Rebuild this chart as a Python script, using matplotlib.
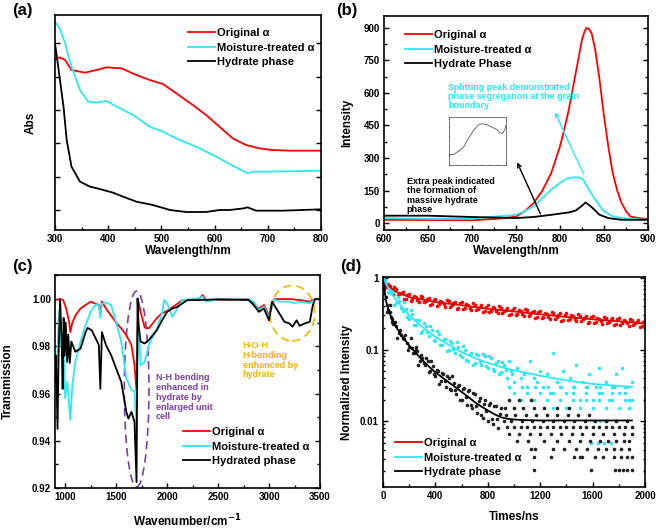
import matplotlib
matplotlib.use("Agg")
import matplotlib.pyplot as plt
from matplotlib.patches import Ellipse
from matplotlib.ticker import (MultipleLocator, FixedLocator, NullFormatter, LogLocator,
                               FixedFormatter, FormatStrFormatter)

plt.rcParams['font.family'] = ['Liberation Sans', 'DejaVu Sans']
plt.rcParams['font.weight'] = 'bold'
plt.rcParams['axes.labelweight'] = 'bold'

RED = '#FF0000'
CYAN = '#2CE8F5'
BLACK = '#000000'

# ---------------- (a) UV-vis absorbance ----------------
a_orig_x = [300, 309, 319, 331, 356, 378, 397, 425, 453, 478, 503, 528, 559, 584, 609, 634, 659, 684, 709, 741, 800]
a_orig_y = [5.52, 5.58, 5.50, 5.20, 5.12, 5.20, 5.28, 5.25, 5.05, 4.90, 4.78, 4.50, 4.15, 3.85, 3.50, 3.15, 2.95, 2.85, 2.80, 2.78, 2.78]
a_moist_x = [300, 309, 319, 331, 347, 362, 378, 397, 416, 447, 478, 503, 528, 572, 603, 634, 662, 672, 697, 800]
a_moist_y = [6.65, 6.45, 6.00, 5.30, 4.60, 4.25, 4.22, 4.27, 4.10, 3.85, 3.50, 3.35, 3.15, 2.85, 2.60, 2.33, 2.10, 2.15, 2.15, 2.18]
a_hyd_x = [300, 306, 316, 322, 331, 347, 366, 384, 409, 428, 453, 484, 516, 547, 584, 609, 628, 655, 662, 670, 678, 728, 800]
a_hyd_y = [6.00, 5.30, 4.10, 3.10, 2.30, 1.85, 1.70, 1.63, 1.52, 1.40, 1.25, 1.15, 1.00, 0.94, 0.94, 1.00, 1.00, 1.05, 1.08, 1.03, 0.98, 0.98, 1.02]
a_yticks = [1, 2, 3, 4, 5, 6]

# ---------------- (b) PL spectra ----------------
b_orig_x = [600, 650, 700, 730, 750, 760, 770, 780, 790, 800, 805, 810, 815, 820, 825, 828, 830, 833, 836, 840,
            845, 850, 855, 860, 865, 870, 875, 880, 890, 900]
b_orig_y = [15, 14, 13, 20, 30, 55, 92, 150, 230, 354, 435, 523, 630, 738, 846, 885, 900, 895, 875, 800,
            660, 492, 350, 230, 150, 92, 55, 30, 23, 18]
b_moist_x = [600, 650, 700, 750, 760, 770, 780, 790, 795, 800, 805, 810, 815, 822, 826, 830, 835, 840, 845, 850, 860, 870, 900]
b_moist_y = [23, 20, 21, 38, 55, 77, 115, 154, 170, 185, 198, 208, 211, 210, 202, 175, 140, 108, 80, 54, 31, 23, 15]
b_hyd_x = [600, 650, 700, 750, 770, 790, 810, 818, 825, 829, 835, 845, 855, 870, 900]
b_hyd_y = [34, 34, 28, 23, 28, 38, 49, 58, 80, 95, 77, 38, 23, 15, 15]
inset_x = [0.00, 0.08, 0.16, 0.25, 0.34, 0.43, 0.51, 0.57, 0.66, 0.75, 0.84, 0.89, 0.94, 0.98, 1.00]
inset_y = [0.21, 0.22, 0.28, 0.36, 0.55, 0.72, 0.83, 0.86, 0.84, 0.79, 0.74, 0.67, 0.66, 0.74, 0.83]

# ---------------- (c) FTIR ----------------
c_orig_x = [900, 950, 980, 1010, 1040, 1050, 1070, 1100, 1150, 1200, 1250, 1300, 1330, 1345, 1360, 1400, 1450, 1500, 1550, 1600, 1650, 1680, 1700, 1710, 1720, 1740, 1780, 1820, 1900, 1950, 2000, 2100, 2150, 2300, 2350, 2380, 2500, 2800, 2900, 2950, 3000, 3050, 3200, 3300, 3400, 3450, 3500]
c_orig_y = [0.9996, 1.0000, 0.9996, 0.9960, 0.9900, 0.9860, 0.9900, 0.9930, 0.9960, 0.9975, 0.9989, 0.9980, 0.9975, 0.9940, 0.9990, 0.9960, 0.9930, 0.9900, 0.9876, 0.9847, 0.9805, 0.9720, 0.9610, 0.9860, 0.9989, 0.9946, 0.9880, 0.9876, 0.9920, 0.9940, 0.9950, 0.9980, 0.9996, 0.9996, 1.0017, 0.9996, 0.9996, 1.0000, 0.9960, 0.9975, 0.9930, 1.0000, 1.0000, 0.9996, 0.9989, 1.0000, 1.0000]
c_moist_x = [900, 920, 940, 960, 980, 1000, 1020, 1050, 1070, 1100, 1150, 1200, 1250, 1300, 1330, 1345, 1360, 1400, 1450, 1500, 1550, 1600, 1650, 1680, 1700, 1710, 1720, 1740, 1780, 1820, 1900, 1950, 1970, 2000, 2050, 2100, 2150, 2300, 2350, 2380, 2500, 2800, 2850, 2900, 2950, 2980, 3000, 3050, 3100, 3200, 3250, 3300, 3400, 3450, 3500]
c_moist_y = [0.9734, 0.9734, 0.9950, 0.9800, 0.9860, 0.9580, 0.9650, 0.9490, 0.9635, 0.9734, 0.9820, 0.9890, 0.9946, 0.9977, 0.9975, 0.9920, 0.9980, 0.9986, 0.9975, 0.9900, 0.9820, 0.9664, 0.9614, 0.9610, 0.9437, 0.9760, 0.9900, 0.9720, 0.9734, 0.9805, 0.9876, 0.9940, 0.9996, 0.9982, 0.9925, 0.9960, 0.9996, 1.0003, 1.0010, 0.9989, 0.9999, 0.9999, 0.9989, 0.9953, 0.9968, 0.9940, 0.9925, 1.0000, 0.9989, 0.9989, 0.9982, 0.9989, 0.9982, 1.0000, 1.0000]
c_hyd_x = [900, 910, 925, 935, 950, 965, 975, 985, 995, 1005, 1020, 1030, 1045, 1060, 1100, 1150, 1200, 1220, 1260, 1300, 1330, 1345, 1360, 1380, 1400, 1450, 1500, 1550, 1600, 1620, 1650, 1680, 1700, 1710, 1720, 1740, 1780, 1820, 1900, 1950, 2000, 2050, 2100, 2150, 2200, 2300, 2500, 2800, 2850, 2900, 2950, 3000, 3030, 3050, 3100, 3150, 3200, 3230, 3270, 3300, 3350, 3400, 3430, 3450, 3500]
c_hyd_y = [0.9650, 0.9760, 0.9450, 0.9760, 1.0000, 0.9830, 0.9620, 0.9920, 0.9760, 0.9900, 0.9734, 0.9850, 0.9730, 0.9820, 0.9777, 0.9790, 0.9860, 0.9878, 0.9868, 0.9833, 0.9805, 0.9620, 0.9860, 0.9833, 0.9805, 0.9763, 0.9706, 0.9650, 0.9522, 0.9494, 0.9522, 0.9480, 0.9225, 1.0003, 0.9890, 0.9820, 0.9812, 0.9826, 0.9869, 0.9910, 0.9946, 0.9960, 0.9967, 0.9982, 0.9996, 0.9996, 0.9999, 0.9996, 0.9975, 0.9946, 0.9960, 0.9910, 0.9989, 0.9975, 0.9940, 0.9904, 0.9897, 0.9883, 0.9910, 0.9887, 0.9897, 0.9904, 0.9975, 1.0000, 1.0000]

# ---------------- (d) TRPL ----------------
d_orig_t = list(range(0, 2001, 25)) + list(range(12, 2000, 25))
d_orig_v = [0.92, 0.75, 0.77, 0.605, 0.69, 0.59, 0.64, 0.51, 0.605, 0.50, 0.54, 0.454, 0.54, 0.475, 0.528, 0.428,
            0.515, 0.427, 0.466, 0.392, 0.47, 0.417, 0.468, 0.382, 0.465, 0.384, 0.419, 0.353, 0.421, 0.373,
            0.418, 0.341, 0.414, 0.344, 0.376, 0.319, 0.383, 0.34, 0.382, 0.312, 0.381, 0.316, 0.346, 0.293,
            0.351, 0.311, 0.35, 0.286, 0.347, 0.289, 0.315, 0.267, 0.321, 0.285, 0.32, 0.262, 0.319, 0.265,
            0.291, 0.247, 0.297, 0.264, 0.296, 0.242, 0.296, 0.246, 0.27, 0.23, 0.276, 0.246, 0.277, 0.228,
            0.278, 0.231, 0.254, 0.215, 0.259, 0.231, 0.259, 0.211, 0.258,
            0.756, 0.824, 0.682, 0.739, 0.575, 0.613, 0.502, 0.583, 0.482, 0.562, 0.494, 0.566, 0.455, 0.50,
            0.418, 0.493, 0.411, 0.483, 0.426, 0.491, 0.397, 0.44, 0.371, 0.442, 0.371, 0.434, 0.384, 0.44,
            0.356, 0.393, 0.332, 0.394, 0.331, 0.389, 0.346, 0.399, 0.325, 0.359, 0.304, 0.361, 0.304, 0.357,
            0.318, 0.366, 0.297, 0.33, 0.278, 0.331, 0.277, 0.326, 0.289, 0.334, 0.271, 0.301, 0.254, 0.303,
            0.255, 0.301, 0.267, 0.309, 0.251, 0.278, 0.235, 0.281, 0.237, 0.279, 0.249, 0.288, 0.235, 0.261,
            0.221, 0.264, 0.222, 0.262, 0.233, 0.27, 0.22, 0.243, 0.205, 0.245]
d_orig_fit_t = [0, 100, 200, 400, 600, 800, 1000, 1200, 1400, 1600, 1800, 2000]
d_orig_fit_v = [0.88, 0.64, 0.54, 0.46, 0.415, 0.37, 0.34, 0.31, 0.285, 0.264, 0.248, 0.23]

d_moist_t = list(range(0, 901, 25)) + [
    925, 950, 975, 1000, 1025, 1050, 1075, 1100, 1125, 1150, 1175, 1200, 1225, 1250, 1275, 1300, 1325, 1350,
    1375, 1400, 1425, 1450, 1475, 1500, 1525, 1550, 1575, 1600, 1625, 1650, 1675, 1700, 1725, 1750, 1775,
    1800, 1825, 1850, 1875, 1900,
    1000, 1100, 1200, 1300, 1450, 1550, 1650, 1750, 1850,
    1050, 1150, 1250, 1350, 1450, 1550, 1650, 1750, 1850, 1900,
    1300, 1400, 1500, 1600, 1700, 1800, 1880,
    1610, 1660, 1700, 1590, 1640, 1690, 1740,
    960, 1060, 1160, 1260, 1360, 1460, 1560, 1660, 1760, 1860] + list(range(12, 1000, 25))
d_moist_v = [1.0, 0.86, 0.62, 0.63, 0.44, 0.47, 0.34, 0.37, 0.27, 0.31, 0.22, 0.26, 0.18, 0.215, 0.155, 0.19,
             0.13, 0.165, 0.115, 0.14, 0.10, 0.125, 0.09, 0.11, 0.078, 0.10, 0.07, 0.09, 0.065, 0.085, 0.06,
             0.08, 0.055, 0.075, 0.05, 0.07, 0.048,
             0.06, 0.04, 0.05, 0.035, 0.055, 0.04, 0.045, 0.03, 0.07, 0.04, 0.035, 0.05, 0.03, 0.045, 0.025,
             0.09, 0.035, 0.03, 0.05, 0.025, 0.04, 0.03, 0.06, 0.02, 0.035, 0.03, 0.045, 0.02, 0.03, 0.055,
             0.025, 0.035, 0.02, 0.03, 0.045, 0.025, 0.055, 0.03, 0.02, 0.035,
             0.025, 0.025, 0.025, 0.025, 0.025, 0.025, 0.025, 0.025, 0.025,
             0.02, 0.02, 0.02, 0.02, 0.02, 0.02, 0.02, 0.02, 0.02, 0.02,
             0.015, 0.015, 0.015, 0.015, 0.015, 0.015, 0.015,
             0.01, 0.01, 0.01, 0.005, 0.005, 0.005, 0.005,
             0.03, 0.03, 0.03, 0.03, 0.03, 0.03, 0.03, 0.03, 0.03, 0.03,
             0.93, 0.633, 0.67, 0.413, 0.543, 0.385, 0.461, 0.282, 0.359, 0.223, 0.257, 0.168, 0.234, 0.173,
             0.215, 0.137, 0.181, 0.116, 0.138, 0.094, 0.133, 0.102, 0.129, 0.084, 0.112, 0.072, 0.087, 0.06,
             0.087, 0.067, 0.087, 0.058, 0.08, 0.053, 0.065, 0.045, 0.066, 0.052, 0.068, 0.046]
d_moist_fit_t = [0, 50, 100, 200, 300, 400, 500, 600, 700, 800, 900, 1000, 1200, 1400, 1600, 1800, 1900]
d_moist_fit_v = [1.0, 0.67, 0.49, 0.30, 0.206, 0.15, 0.117, 0.092, 0.076, 0.065, 0.057, 0.051, 0.043, 0.037, 0.033, 0.031, 0.030]

d_hyd_t = [0, 10, 20, 30, 40, 50, 60, 70, 80, 100, 120, 140, 160, 180, 200, 220, 240, 255, 260, 280, 300, 320,
           340, 360, 380, 400, 420, 440, 460, 480, 500, 520, 540, 560, 580, 600, 620, 640, 660, 680, 700, 720,
           740, 760, 780, 800, 820, 840, 860, 880, 900,
           950, 1000, 1050, 1100, 1150, 1200, 1250, 1300, 1350, 1400, 1450, 1500, 1550, 1600, 1650, 1700, 1750, 1800, 1850, 1900,
           960, 1040, 1120, 1200, 1280, 1360, 1440, 1520, 1600, 1680, 1760, 1840, 1900,
           1020, 1110, 1230, 1330, 1420, 1500, 1580, 1660, 1720, 1780, 1840, 1880,
           1130, 1160, 1300, 1380, 1470, 1560, 1640, 1700, 1760, 1820, 1880,
           1150, 1280, 1460, 1500, 1520, 1620, 1680, 1760, 1820, 1860, 1900,
           1150, 1590, 1770, 1800, 1830, 1860, 1900,
           920, 980, 1060, 1140, 1220, 1300, 1380, 1460, 1540, 1620, 1700, 1780, 1860,
           940, 1010, 1090, 1170, 1250, 1330, 1410, 1490, 1570,
           930, 1000, 1070, 1150, 1230, 1330, 1420,
           960, 1040, 1130] + list(range(10, 900, 20))
d_hyd_v = [0.95, 0.70, 0.55, 0.42, 0.36, 0.33, 0.28, 0.27, 0.23, 0.21, 0.17, 0.16, 0.14, 0.125, 0.11, 0.105,
           0.09, 0.11, 0.095, 0.07, 0.075, 0.06, 0.068, 0.05, 0.058, 0.042, 0.05, 0.036, 0.045, 0.03, 0.04,
           0.027, 0.034, 0.024, 0.032, 0.02, 0.029, 0.017, 0.027, 0.015, 0.024, 0.013, 0.021, 0.011, 0.02,
           0.01, 0.018, 0.009, 0.016, 0.008, 0.015,
           0.0082, 0.0082, 0.0082, 0.0082, 0.0082, 0.0082, 0.0082, 0.0082, 0.0082, 0.0082, 0.0082, 0.0082, 0.0082, 0.0082, 0.0082, 0.0082, 0.0082, 0.0082, 0.0082, 0.0082,
           0.0066, 0.0066, 0.0066, 0.0066, 0.0066, 0.0066, 0.0066, 0.0066, 0.0066, 0.0066, 0.0066, 0.0066, 0.0066,
           0.0052, 0.0052, 0.0052, 0.0052, 0.0052, 0.0052, 0.0052, 0.0052, 0.0052, 0.0052, 0.0052, 0.0052,
           0.0041, 0.0041, 0.0041, 0.0041, 0.0041, 0.0041, 0.0041, 0.0041, 0.0041, 0.0041, 0.0041,
           0.0031, 0.0031, 0.0031, 0.0031, 0.0031, 0.0031, 0.0031, 0.0031, 0.0031, 0.0031, 0.0031,
           0.0021, 0.0021, 0.0021, 0.0021, 0.0021, 0.0021, 0.0021,
           0.010, 0.010, 0.010, 0.010, 0.010, 0.010, 0.010, 0.010, 0.010, 0.010, 0.010, 0.010, 0.010,
           0.012, 0.012, 0.012, 0.012, 0.012, 0.012, 0.012, 0.012, 0.012,
           0.015, 0.015, 0.015, 0.015, 0.015, 0.015, 0.015,
           0.020, 0.020, 0.020,
           0.78, 0.336, 0.416, 0.243, 0.242, 0.143, 0.19, 0.143, 0.162, 0.098, 0.143, 0.09, 0.099, 0.06, 0.085,
           0.065, 0.076, 0.048, 0.07, 0.045, 0.051, 0.033, 0.047, 0.036, 0.043, 0.028, 0.042, 0.027, 0.031,
           0.02, 0.028, 0.022, 0.026, 0.017, 0.025, 0.016, 0.019, 0.012, 0.0176, 0.0138, 0.0166, 0.0107,
           0.0163, 0.0108, 0.0127]
d_hyd_fit_t = [0, 25, 50, 100, 150, 200, 250, 300, 350, 400, 450, 500, 550, 600, 650, 700, 750, 800, 850, 900, 950, 1000, 1100, 1200, 1900]
d_hyd_fit_v = [0.93, 0.46, 0.32, 0.206, 0.15, 0.114, 0.09, 0.071, 0.058, 0.048, 0.041, 0.035, 0.030, 0.0255, 0.0218, 0.0184, 0.016, 0.0141, 0.0125, 0.0113, 0.0108, 0.0105, 0.0103, 0.0102, 0.0102]

labels_a = ['Original α', 'Moisture-treated α', 'Hydrate phase']
labels_b = ['Original α', 'Moisture-treated α', 'Hydrate Phase']
labels_c = ['Original α', 'Moisture-treated α', 'Hydrated phase']
labels_d = ['Original α', 'Moisture-treated α', 'Hydrate phase']

W, H = 661, 530
fig = plt.figure(figsize=(W / 100, H / 100), dpi=100)


def add_ax(l, r, t, b):
    return fig.add_axes([l / W, 1 - b / H, (r - l) / W, (b - t) / H])


def style(ax):
    for s in ax.spines.values():
        s.set_linewidth(1.2)
    ax.tick_params(which='both', direction='in', right=True, top=False, labelsize=7, width=1.0)
    ax.tick_params(which='major', length=3.5, pad=3)
    ax.tick_params(which='minor', length=2)
    for lab in ax.get_xticklabels() + ax.get_yticklabels():
        lab.set_fontweight('bold')


def legend(ax, x_px, y_px):
    leg = ax.legend(loc='upper left', bbox_to_anchor=(x_px / W, 1 - y_px / H), bbox_transform=fig.transFigure,
                    frameon=False, fontsize=8, handlelength=2.4, handletextpad=0.25, labelspacing=0.42,
                    borderpad=0, borderaxespad=0)
    for t in leg.get_texts():
        t.set_fontweight('bold')
    return leg


LW = 1.3
FS_LAB = 8.5
MS = 2.6

# ---- (a)
axa = add_ax(55, 321, 15, 230)
axa.plot(a_orig_x, a_orig_y, color=RED, lw=LW, label=labels_a[0])
axa.plot(a_moist_x, a_moist_y, color=CYAN, lw=LW, label=labels_a[1])
axa.plot(a_hyd_x, a_hyd_y, color=BLACK, lw=LW, label=labels_a[2])
axa.set_xlim(300, 800)
axa.set_ylim(0.4, 6.85)
axa.xaxis.set_major_locator(MultipleLocator(100))
axa.xaxis.set_minor_locator(MultipleLocator(50))
axa.yaxis.set_major_locator(FixedLocator(a_yticks))
axa.yaxis.set_major_formatter(NullFormatter())
style(axa)
axa.set_xlabel('Wavelength/nm', fontsize=FS_LAB, fontweight='bold')
axa.set_ylabel('Abs', fontsize=FS_LAB, fontweight='bold')
axa.xaxis.set_label_coords(0.5, (230 - 251) / 215)
axa.xaxis.label.set_va('center')
axa.yaxis.set_label_coords((31 - 55) / 266, 0.5)
axa.yaxis.label.set_va('center')
legend(axa, 188, 28)

# ---- (b)
axb = add_ax(384, 648, 16, 230)
axb.plot(b_orig_x, b_orig_y, color=RED, lw=LW, label=labels_b[0])
axb.plot(b_moist_x, b_moist_y, color=CYAN, lw=LW, label=labels_b[1])
axb.plot(b_hyd_x, b_hyd_y, color=BLACK, lw=LW, label=labels_b[2])
axb.set_xlim(600, 900)
axb.set_ylim(-32, 955)
axb.xaxis.set_major_locator(MultipleLocator(50))
axb.xaxis.set_minor_locator(MultipleLocator(25))
axb.yaxis.set_major_locator(MultipleLocator(150))
axb.yaxis.set_minor_locator(MultipleLocator(75))
style(axb)
axb.set_xlabel('Wavelength/nm', fontsize=FS_LAB, fontweight='bold')
axb.set_ylabel('Intensity', fontsize=FS_LAB, fontweight='bold')
axb.xaxis.set_label_coords(0.5, (230 - 251) / 214)
axb.xaxis.label.set_va('center')
axb.yaxis.set_label_coords((347 - 384) / 264, 0.5)
axb.yaxis.label.set_va('center')
legend(axb, 405, 30)
axb.text(673, 648, 'Splitting peak demonstrated\nphase segregation at the grain\nboundary', color=CYAN,
         fontsize=6.5, fontweight='bold', ha='left', va='top', linespacing=1.05)
axb.annotate('', xy=(793, 523), xytext=(828, 215),
             arrowprops=dict(arrowstyle='->', color=CYAN, lw=1.0, mutation_scale=7))
axb.text(626, 212, 'Extra peak indicated\nthe formation of\nmassive hydrate\nphase', color=BLACK,
         fontsize=6.5, fontweight='bold', ha='left', va='top', linespacing=1.05)
axb.annotate('', xy=(750, 292), xytext=(779, 31),
             arrowprops=dict(arrowstyle='->', color=BLACK, lw=1.0, mutation_scale=7))
axi = add_ax(449, 506, 117, 165)
axi.plot(inset_x, inset_y, color='#555555', lw=0.6)
axi.set_xlim(0, 1)
axi.set_ylim(0, 1)
for s in axi.spines.values():
    s.set_linewidth(0.5)
    s.set_color('#444444')
axi.tick_params(which='both', direction='in', length=1, width=0.4, colors='#444444')
axi.xaxis.set_major_locator(MultipleLocator(1 / 7))
axi.yaxis.set_major_locator(MultipleLocator(0.2))
axi.xaxis.set_major_formatter(NullFormatter())
axi.yaxis.set_major_formatter(NullFormatter())

# ---- (c)
axc = add_ax(55, 320, 275, 488)
axc.plot(c_orig_x, c_orig_y, color=RED, lw=LW, label=labels_c[0])
axc.plot(c_moist_x, c_moist_y, color=CYAN, lw=LW, label=labels_c[1])
axc.plot(c_hyd_x, c_hyd_y, color=BLACK, lw=LW, label=labels_c[2])
axc.set_xlim(900, 3500)
axc.set_ylim(0.92, 1.0102)
axc.xaxis.set_major_locator(MultipleLocator(500))
axc.xaxis.set_minor_locator(MultipleLocator(250))
axc.yaxis.set_major_locator(MultipleLocator(0.02))
axc.yaxis.set_minor_locator(MultipleLocator(0.01))
axc.yaxis.set_major_formatter(FormatStrFormatter('%.2f'))
style(axc)
axc.add_patch(Ellipse((1701, 0.9619), 242, 0.083, fill=False, ls=(0, (5, 3)), lw=1.2, color='#7B3FA6'))
axc.add_patch(Ellipse((3228, 0.9940), 441, 0.0235, fill=False, ls=(0, (5, 3)), lw=1.2, color='#F5B400'))
axc.text(1890, 0.9685, 'N-H bending\nenhanced in\nhydrate by\nenlarged unit\ncell', color='#7B3FA6',
         fontsize=6.5, fontweight='bold', ha='left', va='top', linespacing=1.1)
axc.text(2740, 0.9822, 'H-O-H\nH-bonding\nenhanced by\nhydrate', color='#F5B400',
         fontsize=6.5, fontweight='bold', ha='left', va='top', linespacing=1.1)
axc.set_xlabel('Wavenumber/cm$^{\\mathbf{-1}}$', fontsize=FS_LAB, fontweight='bold')
axc.set_ylabel('Transmission', fontsize=FS_LAB, fontweight='bold')
axc.xaxis.set_label_coords(0.5, (488 - 521) / 213)
axc.xaxis.label.set_va('center')
axc.yaxis.set_label_coords((8 - 55) / 265, 0.5)
axc.yaxis.label.set_va('center')
legend(axc, 183, 427)

# ---- (d)
axd = add_ax(383, 645, 277, 487)
axd.plot(d_orig_t, d_orig_v, 'o', color=RED, ms=MS, mew=0)
axd.plot(d_moist_t, d_moist_v, 'o', color=CYAN, ms=MS, mew=0)
axd.plot(d_hyd_t, d_hyd_v, 'o', color='#222222', ms=MS, mew=0)
axd.plot(d_orig_fit_t, d_orig_fit_v, color='#E00000', lw=LW, label=labels_d[0])
axd.plot(d_moist_fit_t, d_moist_fit_v, color=CYAN, lw=LW, label=labels_d[1])
axd.plot(d_hyd_fit_t, d_hyd_fit_v, color=BLACK, lw=LW, label=labels_d[2])
axd.set_yscale('log')
axd.set_xlim(0, 2000)
axd.set_ylim(0.0012, 1.03)
axd.xaxis.set_major_locator(MultipleLocator(400))
axd.xaxis.set_minor_locator(MultipleLocator(200))
axd.yaxis.set_major_locator(FixedLocator([0.01, 0.1, 1]))
axd.yaxis.set_major_formatter(FixedFormatter(['0.01', '0.1', '1']))
axd.yaxis.set_minor_locator(LogLocator(base=10, subs=range(2, 10)))
axd.yaxis.set_minor_formatter(NullFormatter())
style(axd)
axd.tick_params(which='minor', axis='y', length=1.5)
axd.set_xlabel('Times/ns', fontsize=FS_LAB, fontweight='bold')
axd.set_ylabel('Normalized Intensity', fontsize=FS_LAB, fontweight='bold')
axd.xaxis.set_label_coords(0.5, (487 - 517) / 210)
axd.xaxis.label.set_va('center')
axd.yaxis.set_label_coords((347 - 383) / 262, 0.5)
axd.yaxis.label.set_va('center')
legend(axd, 395, 438)

# panel letters
for lab, x, y in [('(a)', 12, 11), ('(b)', 336, 11), ('(c)', 12, 266), ('(d)', 340, 266)]:
    fig.text(x / W, 1 - y / H, lab, fontsize=12, fontweight='bold', ha='left', va='center')

fig.savefig('out.png', dpi=100)
